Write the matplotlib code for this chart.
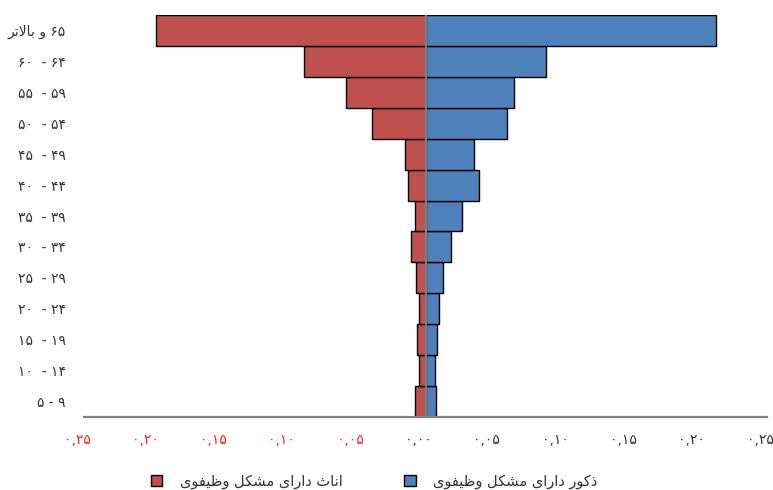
import re
import matplotlib
matplotlib.use("Agg")
import matplotlib.pyplot as plt
from matplotlib.patches import Patch
from matplotlib.transforms import ScaledTranslation

# age groups, bottom to top
age_labels = ["۵ - ۹", "۱۰  - ۱۴", "۱۵  - ۱۹", "۲۰  - ۲۴", "۲۵  - ۲۹", "۳۰  - ۳۴",
              "۳۵  - ۳۹", "۴۰  - ۴۴", "۴۵  - ۴۹", "۵۰  - ۵۴", "۵۵  - ۵۹", "۶۰  - ۶۴",
              "۶۵ و بالاتر"]
female = [0.0075, 0.0045, 0.0064, 0.0050, 0.0072, 0.0108, 0.0075, 0.0126, 0.0148,
          0.039, 0.058, 0.089, 0.197]
male = [0.0079, 0.0070, 0.0086, 0.0101, 0.0128, 0.0184, 0.0267, 0.039, 0.0355,
        0.0594, 0.065, 0.088, 0.2125]
x_ticks = [-0.25, -0.20, -0.15, -0.10, -0.05, 0.0, 0.05, 0.10, 0.15, 0.20, 0.25]
x_tick_labels = ["۰,۲۵", "۰,۲۰", "۰,۱۵", "۰,۱۰", "۰,۰۵", "۰,۰۰",
                 "۰,۰۵", "۰,۱۰", "۰,۱۵", "۰,۲۰", "۰,۲۵"]
female_name = "اناث دارای مشکل وظیفوی"
male_name = "ذکور دارای مشکل وظیفوی"

# matplotlib does no arabic shaping, so pick presentation forms by hand
# (isolated, final, initial, medial)
FORMS = {
    'ا': ('\uFE8D', '\uFE8E', None, None),
    'ب': ('\uFE8F', '\uFE90', '\uFE91', '\uFE92'),
    'ت': ('\uFE95', '\uFE96', '\uFE97', '\uFE98'),
    'ث': ('\uFE99', '\uFE9A', '\uFE9B', '\uFE9C'),
    'د': ('\uFEA9', '\uFEAA', None, None),
    'ذ': ('\uFEAB', '\uFEAC', None, None),
    'ر': ('\uFEAD', '\uFEAE', None, None),
    'ش': ('\uFEB5', '\uFEB6', '\uFEB7', '\uFEB8'),
    'ظ': ('\uFEC5', '\uFEC6', '\uFEC7', '\uFEC8'),
    'ف': ('\uFED1', '\uFED2', '\uFED3', '\uFED4'),
    'ل': ('\uFEDD', '\uFEDE', '\uFEDF', '\uFEE0'),
    'م': ('\uFEE1', '\uFEE2', '\uFEE3', '\uFEE4'),
    'ن': ('\uFEE5', '\uFEE6', '\uFEE7', '\uFEE8'),
    'و': ('\uFEED', '\uFEEE', None, None),
    'ک': ('\uFB8E', '\uFB8F', '\uFB90', '\uFB91'),
    'ی': ('\uFBFC', '\uFBFD', '\uFBFE', '\uFBFF'),
}


def shape(text):
    out = []
    n = len(text)
    i = 0
    while i < n:
        c = text[i]
        if c not in FORMS:
            out.append(c)
            i += 1
            continue
        prev = text[i - 1] if i > 0 else ''
        joins_prev = prev in FORMS and FORMS[prev][2] is not None
        if c == 'ل' and i + 1 < n and text[i + 1] == 'ا':
            out.append('\uFEFC' if joins_prev else '\uFEFB')
            i += 2
            continue
        nxt = text[i + 1] if i + 1 < n else ''
        joins_next = FORMS[c][2] is not None and nxt in FORMS
        iso, fin, ini, med = FORMS[c]
        if joins_prev and joins_next:
            out.append(med)
        elif joins_prev:
            out.append(fin)
        elif joins_next:
            out.append(ini)
        else:
            out.append(iso)
        i += 1
    return ''.join(out)


def rtl(text):
    s = shape(text)[::-1]
    # digit runs stay left to right
    return re.sub(r'[۰-۹0-9]+', lambda m: m.group(0)[::-1], s)


plt.rcParams['font.family'] = ['DejaVu Sans']

fig = plt.figure(figsize=(7.73, 4.9), dpi=100)
ax = fig.add_axes([84 / 773, 1 - 417 / 490, 683 / 773, 402 / 490])

y = list(range(len(age_labels)))
red = '#C0504D'
blue = '#4F81BD'
ax.barh(y, [-v for v in female], height=1.0, color=red, edgecolor='black', linewidth=1)
ax.barh(y, male, height=1.0, color=blue, edgecolor='black', linewidth=1)
ax.axvline(0, color='#808080', lw=1.6, zorder=5)

ax.set_xlim(-0.25, 0.25)
ax.set_ylim(-0.5, len(age_labels) - 0.5)

ax.set_yticks(y)
ax.set_yticklabels([rtl(a) if 'و' in a else a for a in age_labels], fontsize=10, color='#333333')

# x labels sit a little left of their ticks, as in the original
ax.set_xticks(x_ticks)
ax.set_xticklabels([])
lab_trans = ax.get_xaxis_transform() + ScaledTranslation(-7 / 100, -23 / 100, fig.dpi_scale_trans)
for v, lab in zip(x_ticks, x_tick_labels):
    ax.text(v, 0, lab, transform=lab_trans, ha='center', va='center', fontsize=10,
            color='#FF2020' if v < 0 else '#333333', clip_on=False)

ax.tick_params(axis='both', length=0)
ax.tick_params(axis='y', pad=13)
for side in ['top', 'right', 'left']:
    ax.spines[side].set_visible(False)
ax.spines['bottom'].set_color('#808080')
ax.spines['bottom'].set_linewidth(1.6)

handles = [Patch(facecolor=red, edgecolor='black', linewidth=1),
           Patch(facecolor=blue, edgecolor='black', linewidth=1)]
fig.legend(handles, [rtl(female_name), rtl(male_name)], ncol=2, frameon=False,
           loc='center', bbox_to_anchor=(374 / 773, 1 - 481 / 490),
           fontsize=10.5, handlelength=0.8, handleheight=0.8,
           columnspacing=4.2, handletextpad=1.2, labelcolor='#333333')

fig.savefig('out.png', dpi=100)
